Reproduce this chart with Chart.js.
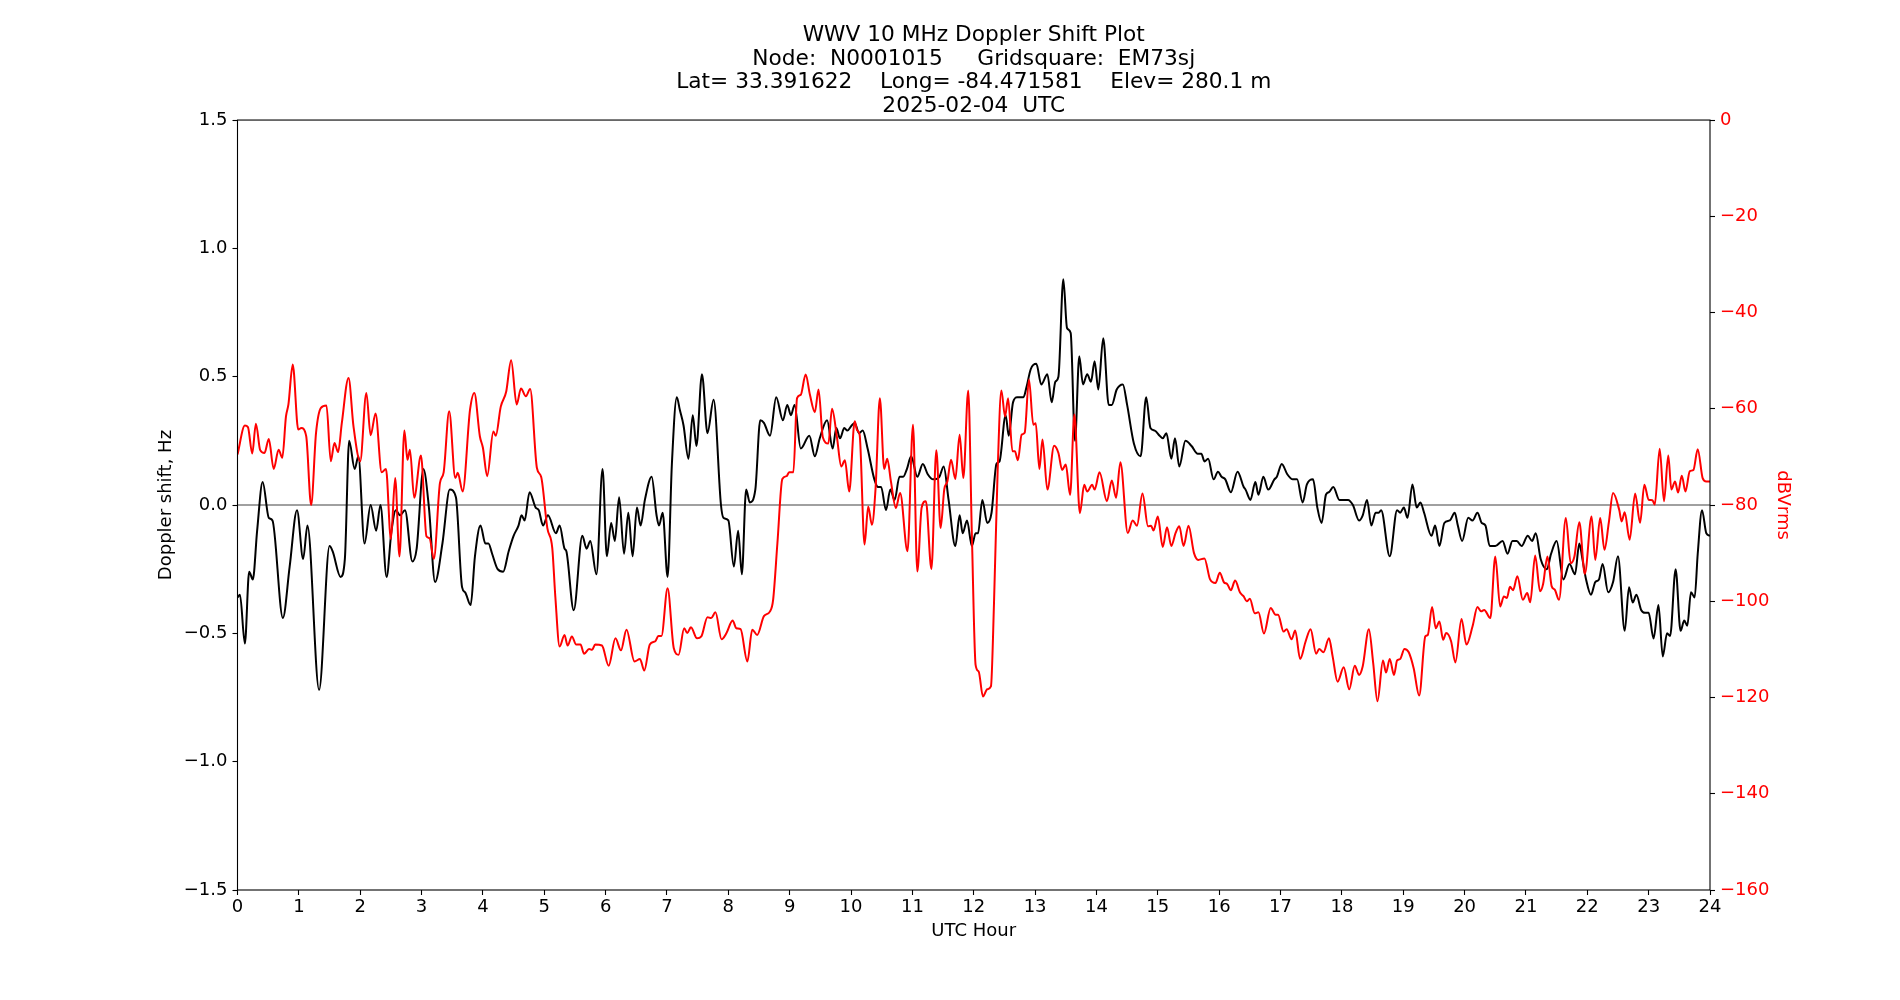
<!DOCTYPE html>
<html>
<head>
<meta charset="utf-8">
<title>WWV 10 MHz Doppler Shift Plot</title>
<script src="https://cdn.jsdelivr.net/npm/chart.js@4.4.1/dist/chart.umd.min.js"></script>
<style>
  html, body { margin: 0; padding: 0; background: #fff; }
  #wrap { width: 1900px; height: 1000px; }
</style>
</head>
<body>
<div id="wrap"><canvas id="plot" width="1900" height="1000"></canvas></div>
<script>
// Titre du graphique (4 lignes)
var titleLines = [
    "WWV 10 MHz Doppler Shift Plot",
    "Node:  N0001015     Gridsquare:  EM73sj",
    "Lat= 33.391622    Long= -84.471581    Elev= 280.1 m",
    "2025-02-04  UTC"
];

// Doppler shift (Hz) en fonction de l'heure UTC
var dopplerHour = [
    0, 0.04, 0.12, 0.19, 0.25, 0.32, 0.41, 0.51, 0.57, 0.74, 0.85, 0.97, 1.07, 1.14, 1.33, 1.5, 1.55, 1.68, 1.75, 1.82, 1.91, 1.97,
    2.07, 2.17, 2.26, 2.33, 2.43, 2.51, 2.58, 2.65, 2.73, 2.85, 2.92, 3.03, 3.12, 3.22, 3.34, 3.46, 3.56, 3.66, 3.71, 3.8, 3.87, 3.96,
    4.04, 4.09, 4.15, 4.24, 4.33, 4.42, 4.5, 4.58, 4.63, 4.68, 4.76, 4.86, 4.91, 4.98, 5.06, 5.19, 5.25, 5.33, 5.36, 5.48, 5.62, 5.69, 5.75, 5.85, 5.95,
    6.02, 6.09, 6.15, 6.22, 6.3, 6.37, 6.44, 6.51, 6.57, 6.64, 6.75, 6.83, 6.87, 6.93, 7.01, 7.08, 7.16, 7.21, 7.27, 7.35, 7.42, 7.48, 7.57, 7.66, 7.76, 7.88, 7.92,
    8.0, 8.09, 8.16, 8.22, 8.29, 8.35, 8.44, 8.52, 8.58, 8.68, 8.78, 8.89, 8.96, 9.02, 9.08, 9.18, 9.32, 9.41, 9.49, 9.61, 9.7, 9.76, 9.82, 9.89, 9.94,
    10.01, 10.06, 10.13, 10.19, 10.27, 10.38, 10.44, 10.49, 10.57, 10.64, 10.71, 10.79, 10.85, 10.91, 10.98, 11.08, 11.17, 11.25, 11.34, 11.44, 11.51, 11.59, 11.7, 11.77, 11.82, 11.89, 11.97,
    12.03, 12.07, 12.14, 12.22, 12.29, 12.37, 12.42, 12.52, 12.57, 12.64, 12.71, 12.81, 12.86, 12.93, 13.02, 13.1, 13.2, 13.27, 13.33, 13.38, 13.46, 13.52, 13.58, 13.65, 13.72, 13.78, 13.85, 13.91, 13.97,
    14.03, 14.11, 14.2, 14.25, 14.33, 14.43, 14.5, 14.61, 14.72, 14.81, 14.88, 14.95, 15.03, 15.08, 15.14, 15.22, 15.28, 15.35, 15.45, 15.55, 15.65, 15.71, 15.76, 15.82, 15.91, 15.98,
    16.04, 16.1, 16.19, 16.3, 16.4, 16.43, 16.51, 16.59, 16.64, 16.72, 16.8, 16.9, 16.94, 17.02, 17.11, 17.2, 17.27, 17.36, 17.43, 17.53, 17.6, 17.67, 17.74, 17.79, 17.86, 17.96,
    18.03, 18.1, 18.18, 18.28, 18.34, 18.41, 18.48, 18.55, 18.6, 18.64, 18.78, 18.9, 18.95, 19.01, 19.07, 19.15, 19.22, 19.28, 19.34, 19.46, 19.52, 19.59, 19.67, 19.76, 19.84, 19.89, 19.96,
    20.06, 20.13, 20.21, 20.28, 20.34, 20.41, 20.5, 20.62, 20.7, 20.78, 20.85, 20.93, 21.03, 21.1, 21.16, 21.24, 21.34, 21.41, 21.5, 21.61, 21.71, 21.8, 21.87, 21.92, 21.98,
    22.06, 22.13, 22.19, 22.25, 22.34, 22.42, 22.5, 22.61, 22.68, 22.74, 22.8, 22.88, 22.94, 23.0, 23.08, 23.16, 23.23, 23.3, 23.35, 23.44, 23.52, 23.58, 23.63, 23.69, 23.75, 23.8, 23.87, 23.94, 24.0
];
var dopplerHz = [
    -0.36, -0.35, -0.54, -0.26, -0.29, -0.10, 0.09, -0.05, -0.06, -0.44, -0.24, -0.02, -0.21, -0.08, -0.72, -0.16, -0.18, -0.28, -0.21, 0.25, 0.14, 0.19,
    -0.15, 0.00, -0.10, 0.00, -0.28, -0.10, -0.02, -0.04, -0.02, -0.22, -0.17, 0.14, -0.01, -0.30, -0.15, 0.06, 0.03, -0.32, -0.34, -0.39, -0.20, -0.08,
    -0.15, -0.15, -0.19, -0.25, -0.26, -0.18, -0.12, -0.08, -0.04, -0.06, 0.05, -0.01, -0.02, -0.08, -0.04, -0.11, -0.08, -0.17, -0.18, -0.41, -0.12, -0.17, -0.14, -0.27, 0.14,
    -0.20, -0.07, -0.14, 0.03, -0.19, -0.03, -0.20, -0.01, -0.08, 0.02, 0.11, -0.04, -0.08, -0.03, -0.28, 0.16, 0.42, 0.37, 0.31, 0.18, 0.35, 0.23, 0.51, 0.28, 0.41, 0.00, -0.05,
    -0.06, -0.24, -0.10, -0.27, 0.06, 0.01, 0.06, 0.33, 0.32, 0.27, 0.42, 0.33, 0.39, 0.35, 0.39, 0.22, 0.27, 0.19, 0.26, 0.33, 0.22, 0.30, 0.26, 0.30, 0.29,
    0.31, 0.32, 0.28, 0.29, 0.22, 0.10, 0.07, 0.07, -0.02, 0.06, 0.02, 0.11, 0.11, 0.14, 0.19, 0.11, 0.16, 0.12, 0.10, 0.11, 0.15, 0.02, -0.16, -0.04, -0.11, -0.06, -0.16,
    -0.11, -0.11, 0.02, -0.07, -0.03, 0.16, 0.17, 0.35, 0.27, 0.40, 0.42, 0.42, 0.46, 0.53, 0.55, 0.47, 0.51, 0.40, 0.48, 0.50, 0.88, 0.69, 0.67, 0.25, 0.58, 0.47, 0.51, 0.48, 0.56,
    0.45, 0.65, 0.39, 0.39, 0.45, 0.47, 0.39, 0.24, 0.19, 0.42, 0.30, 0.29, 0.27, 0.26, 0.28, 0.18, 0.26, 0.15, 0.25, 0.23, 0.20, 0.20, 0.17, 0.18, 0.10, 0.13,
    0.11, 0.10, 0.05, 0.13, 0.07, 0.06, 0.02, 0.09, 0.04, 0.11, 0.06, 0.10, 0.11, 0.16, 0.12, 0.10, 0.10, 0.01, 0.08, 0.10, -0.01, -0.07, 0.04, 0.05, 0.07, 0.02,
    0.02, 0.02, 0.00, -0.06, -0.04, 0.02, -0.08, -0.03, -0.03, -0.02, -0.20, -0.02, -0.03, -0.01, -0.05, 0.08, -0.01, 0.01, -0.03, -0.12, -0.08, -0.16, -0.07, -0.06, -0.03, -0.08, -0.14,
    -0.05, -0.06, -0.03, -0.07, -0.08, -0.16, -0.16, -0.14, -0.19, -0.14, -0.14, -0.16, -0.12, -0.14, -0.11, -0.21, -0.25, -0.19, -0.14, -0.29, -0.23, -0.27, -0.15, -0.21, -0.29,
    -0.35, -0.30, -0.29, -0.23, -0.34, -0.30, -0.20, -0.49, -0.32, -0.38, -0.35, -0.41, -0.42, -0.42, -0.52, -0.39, -0.59, -0.50, -0.51, -0.25, -0.49, -0.45, -0.47, -0.34, -0.36, -0.19, -0.02, -0.11, -0.12
];

// Niveau du signal (dBVrms) en fonction de l'heure UTC
var levelHour = [
    0, 0.12, 0.17, 0.24, 0.3, 0.37, 0.44, 0.51, 0.59, 0.67, 0.73, 0.79, 0.83, 0.9, 0.99, 1.04, 1.12, 1.2, 1.28, 1.36, 1.45, 1.52, 1.58, 1.64, 1.7, 1.81, 1.89, 2.0,
    2.1, 2.17, 2.25, 2.35, 2.42, 2.5, 2.57, 2.64, 2.72, 2.77, 2.81, 2.88, 2.99, 3.08, 3.13, 3.2, 3.3, 3.36, 3.45, 3.55, 3.59, 3.67, 3.79, 3.86, 3.95,
    4.0, 4.07, 4.17, 4.21, 4.29, 4.38, 4.46, 4.55, 4.62, 4.7, 4.77, 4.88, 4.95, 5.05, 5.13, 5.18, 5.25, 5.33, 5.38, 5.45, 5.52, 5.59, 5.65, 5.73, 5.78, 5.83, 5.94,
    6.05, 6.16, 6.25, 6.34, 6.47, 6.56, 6.63, 6.72, 6.81, 6.86, 6.91, 7.01, 7.11, 7.19, 7.28, 7.33, 7.39, 7.49, 7.56, 7.66, 7.72, 7.79, 7.89, 7.97,
    8.07, 8.13, 8.2, 8.31, 8.39, 8.47, 8.58, 8.68, 8.73, 8.8, 8.88, 8.95, 8.99, 9.06, 9.12, 9.18, 9.26, 9.33, 9.41, 9.47, 9.54, 9.63, 9.69, 9.77, 9.84, 9.9, 9.97,
    10.06, 10.1, 10.14, 10.22, 10.28, 10.34, 10.4, 10.47, 10.54, 10.59, 10.65, 10.73, 10.8, 10.92, 11.01, 11.08, 11.15, 11.22, 11.31, 11.39, 11.46, 11.52, 11.57, 11.63, 11.7, 11.77, 11.83, 11.91, 11.97,
    12.03, 12.08, 12.15, 12.22, 12.28, 12.33, 12.39, 12.45, 12.51, 12.56, 12.63, 12.67, 12.72, 12.78, 12.83, 12.9, 12.97, 13.01, 13.07, 13.12, 13.2, 13.31, 13.38, 13.44, 13.5, 13.57, 13.64, 13.73, 13.8, 13.85, 13.93, 13.97,
    14.05, 14.17, 14.25, 14.32, 14.39, 14.51, 14.59, 14.66, 14.75, 14.84, 14.89, 14.93, 15.0, 15.08, 15.15, 15.22, 15.29, 15.35, 15.42, 15.5, 15.59, 15.66, 15.76, 15.85, 15.94, 16.01,
    16.08, 16.13, 16.19, 16.26, 16.34, 16.4, 16.45, 16.5, 16.58, 16.64, 16.73, 16.84, 16.92, 16.96, 17.05, 17.1, 17.18, 17.24, 17.32, 17.41, 17.49, 17.58, 17.63, 17.7, 17.79, 17.85, 17.93,
    18.03, 18.12, 18.21, 18.28, 18.34, 18.44, 18.51, 18.58, 18.67, 18.72, 18.78, 18.85, 18.9, 18.95, 19.02, 19.09, 19.17, 19.26, 19.36, 19.4, 19.47, 19.53, 19.59, 19.65, 19.7, 19.78, 19.85, 19.95,
    20.03, 20.13, 20.21, 20.27, 20.32, 20.42, 20.5, 20.58, 20.64, 20.69, 20.74, 20.79, 20.86, 20.95, 21.02, 21.07, 21.15, 21.23, 21.28, 21.35, 21.42, 21.47, 21.54, 21.65, 21.73, 21.79, 21.87, 21.96,
    22.07, 22.13, 22.21, 22.28, 22.35, 22.42, 22.52, 22.56, 22.61, 22.69, 22.78, 22.86, 22.93, 23.0, 23.06, 23.1, 23.18, 23.25, 23.32, 23.37, 23.43, 23.48, 23.54, 23.6, 23.67, 23.73, 23.8, 23.88, 23.94, 24.0
];
var levelDb = [
    -69.5, -63.5, -63.8, -69.3, -63.1, -68.6, -69.2, -66.3, -72.5, -68.5, -70.2, -61.6, -59.1, -50.8, -64.3, -64.0, -65.7, -80.0, -65.0, -59.8, -59.3, -70.9, -67.1, -69.0, -63.0, -53.6, -63.6, -70.9,
    -56.7, -65.5, -61.0, -73.2, -72.5, -87.1, -74.4, -90.7, -64.5, -70.6, -68.5, -78.5, -69.7, -86.5, -86.9, -91.2, -75.4, -73.2, -60.5, -74.4, -73.3, -77.2, -60.2, -56.7, -65.7,
    -68.1, -74.0, -64.7, -65.6, -59.6, -56.4, -49.9, -59.1, -55.8, -57.4, -55.9, -72.3, -74.2, -84.8, -88.9, -99.0, -109.4, -107.0, -109.2, -107.3, -109.0, -109.0, -110.9, -109.9, -110.1, -109.0, -109.2,
    -113.4, -107.7, -110.2, -105.9, -112.5, -112.0, -114.4, -109.0, -108.3, -107.2, -107.2, -97.3, -109.7, -111.1, -105.6, -106.6, -105.4, -107.7, -107.3, -103.3, -103.5, -102.3, -107.9, -106.6,
    -104.0, -105.6, -105.8, -112.5, -105.9, -107.0, -103.1, -102.1, -99.7, -87.9, -74.6, -74.0, -73.2, -73.2, -57.8, -57.1, -52.9, -57.1, -60.7, -56.0, -65.9, -67.2, -60.0, -65.9, -72.0, -70.7, -77.2,
    -62.6, -64.5, -65.4, -88.2, -80.3, -84.1, -76.5, -57.8, -72.5, -70.4, -75.1, -80.6, -77.5, -89.6, -63.3, -93.8, -80.6, -79.2, -93.3, -68.6, -84.8, -76.7, -75.1, -70.6, -74.6, -65.4, -74.4, -56.2, -86.5,
    -113.2, -114.6, -119.8, -118.3, -117.7, -100.4, -72.7, -56.2, -61.6, -57.8, -68.8, -68.8, -70.7, -65.4, -65.0, -53.9, -63.3, -63.0, -72.5, -66.4, -76.8, -67.7, -69.2, -72.7, -71.6, -77.9, -61.2, -81.7, -75.8, -77.2, -75.8, -76.8,
    -73.2, -79.2, -74.9, -78.5, -71.1, -85.8, -83.2, -84.3, -77.6, -84.4, -84.3, -85.3, -82.4, -88.7, -84.6, -88.5, -85.8, -84.4, -88.5, -84.3, -90.0, -91.4, -91.1, -95.4, -96.2, -94.1,
    -96.1, -96.4, -97.7, -95.7, -98.2, -99.0, -100.0, -99.5, -102.5, -102.3, -106.7, -101.4, -102.8, -102.8, -106.3, -105.8, -107.9, -106.1, -112.0, -108.3, -105.8, -110.9, -109.9, -110.6, -107.7, -111.5, -116.7,
    -113.7, -118.3, -113.4, -115.3, -113.5, -105.8, -112.8, -120.8, -112.3, -114.8, -112.0, -115.3, -112.3, -112.0, -109.9, -110.6, -113.9, -119.6, -107.3, -107.0, -101.2, -105.6, -104.2, -108.0, -106.6, -108.3, -112.7, -103.7,
    -109.0, -105.2, -101.2, -102.1, -101.8, -103.5, -90.7, -101.1, -99.0, -99.3, -97.0, -97.7, -94.8, -99.7, -98.3, -100.2, -90.5, -97.9, -96.4, -90.7, -96.9, -97.6, -99.7, -82.7, -92.1, -90.7, -83.6, -94.3,
    -82.4, -91.4, -82.7, -89.3, -83.7, -77.5, -81.0, -83.4, -81.5, -87.2, -77.6, -83.7, -75.8, -78.9, -79.0, -79.9, -68.3, -79.2, -69.7, -76.8, -75.1, -77.4, -73.9, -77.2, -73.0, -72.7, -68.4, -74.4, -75.1, -75.1
];

var fontFamily = "'DejaVu Sans', 'Liberation Sans', sans-serif";
var tickSize = 18;
var titleSize = 21.7;

// Transformer deux tableaux en points {x, y}
function toPoints(xs, ys) {
    return xs.map(function(x, i) { return { x: x, y: ys[i] }; });
}

// Signe moins typographique comme matplotlib
function minus(s) {
    return String(s).replace('-', '\u2212');
}

// Cadre noir autour de la zone du graphique
var framePlugin = {
    id: 'frame',
    afterDatasetsDraw: function(chart) {
        var a = chart.chartArea;
        var ctx = chart.ctx;
        ctx.save();
        ctx.strokeStyle = '#000';
        ctx.lineWidth = 1.1;
        ctx.strokeRect(a.left, a.top, a.right - a.left, a.bottom - a.top);
        ctx.restore();
    }
};

var tickGrid = {
    display: true,
    drawOnChartArea: false,
    drawTicks: true,
    tickLength: 5,
    tickColor: '#000',
    tickWidth: 1.1
};

var ctx = document.getElementById('plot').getContext('2d');
var myChart = new Chart(ctx, {
    type: 'line',
    data: {
        datasets: [{
            label: 'dBVrms',
            data: toPoints(levelHour, levelDb),
            yAxisID: 'y1',
            borderColor: '#ff0000',
            borderWidth: 2,
            pointRadius: 0,
            cubicInterpolationMode: 'monotone',
            order: 0
        }, {
            label: 'Doppler shift',
            data: toPoints(dopplerHour, dopplerHz),
            yAxisID: 'y',
            borderColor: '#000000',
            borderWidth: 2,
            pointRadius: 0,
            cubicInterpolationMode: 'monotone',
            order: 1
        }, {
            label: 'zero',
            data: [{ x: 0, y: 0 }, { x: 24, y: 0 }],
            yAxisID: 'y',
            borderColor: '#808080',
            borderWidth: 1.4,
            pointRadius: 0,
            order: 2
        }]
    },
    options: {
        responsive: false,
        animation: false,
        devicePixelRatio: 1,
        layout: { padding: 0 },
        plugins: {
            legend: { display: false },
            tooltip: { enabled: false },
            title: {
                display: true,
                fullSize: false, // centré sur la zone du graphique, comme matplotlib
                text: titleLines,
                color: '#000',
                font: { family: fontFamily, size: titleSize, weight: 'normal', lineHeight: 1.08 },
                padding: { top: 24, bottom: 2.3 }
            }
        },
        scales: {
            x: {
                type: 'linear',
                min: 0,
                max: 24,
                grid: tickGrid,
                border: { display: false },
                ticks: {
                    stepSize: 1,
                    autoSkip: false,
                    maxRotation: 0,
                    padding: 2,
                    color: '#000',
                    font: { family: fontFamily, size: tickSize }
                },
                title: {
                    display: true,
                    text: 'UTC Hour',
                    color: '#000',
                    font: { family: fontFamily, size: tickSize },
                    padding: { top: 4, bottom: 58 }
                },
                afterFit: function(scale) { scale.height = 110; }
            },
            y: {
                position: 'left',
                min: -1.5,
                max: 1.5,
                grid: tickGrid,
                border: { display: false },
                ticks: {
                    stepSize: 0.5,
                    padding: 5,
                    color: '#000',
                    font: { family: fontFamily, size: tickSize },
                    callback: function(v) { return minus(Number(v).toFixed(1)); }
                },
                title: {
                    display: true,
                    text: 'Doppler shift, Hz',
                    color: '#000',
                    font: { family: fontFamily, size: tickSize },
                    padding: { top: 156, bottom: 0 }
                },
                afterFit: function(scale) { scale.width = 237.5; }
            },
            y1: {
                position: 'right',
                min: -160,
                max: 0,
                grid: tickGrid,
                border: { display: false },
                ticks: {
                    stepSize: 20,
                    padding: 5,
                    color: '#ff0000',
                    font: { family: fontFamily, size: tickSize },
                    callback: function(v) { return minus(v); }
                },
                title: {
                    display: true,
                    text: 'dBVrms',
                    color: '#ff0000',
                    font: { family: fontFamily, size: tickSize },
                    padding: { top: 107, bottom: 0 }
                },
                afterFit: function(scale) { scale.width = 190; }
            }
        }
    },
    plugins: [framePlugin]
});
</script>
</body>
</html>
